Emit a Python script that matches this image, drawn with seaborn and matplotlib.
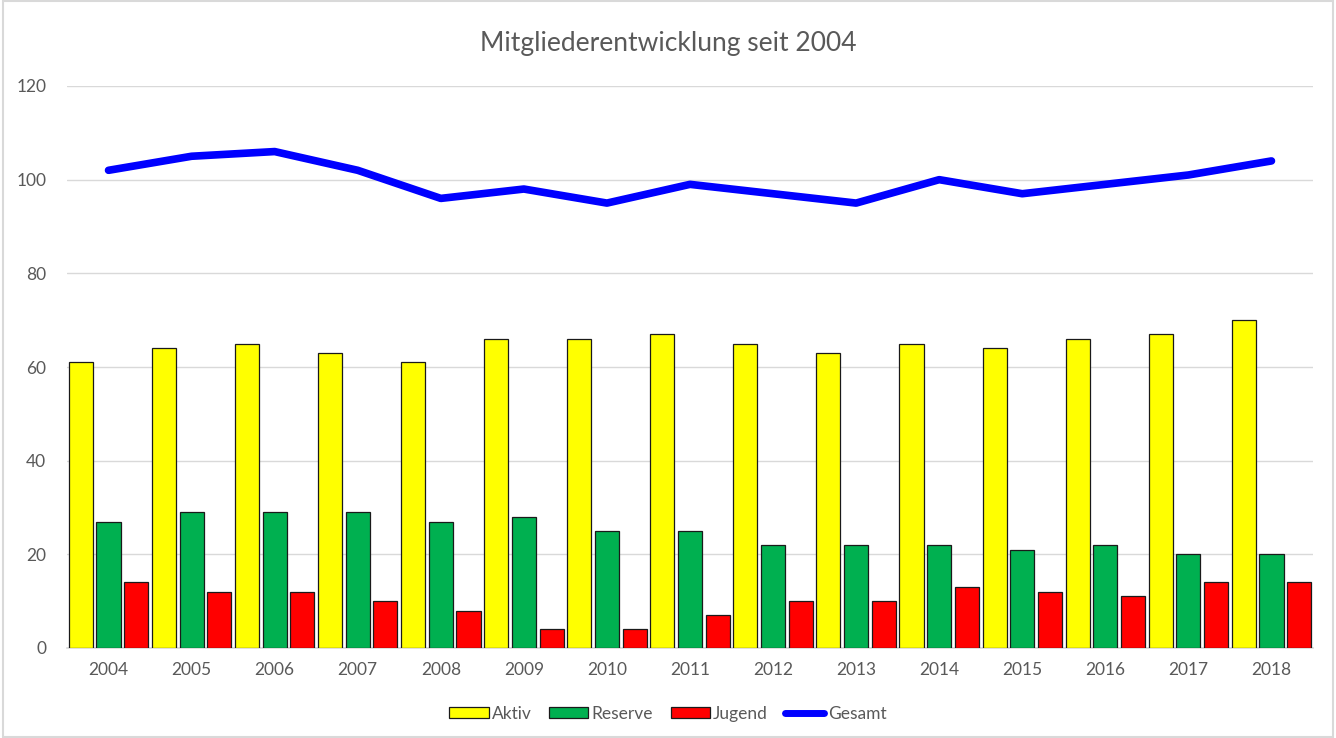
import numpy as np
import pandas as pd
import matplotlib
matplotlib.use("Agg")
import matplotlib.pyplot as plt
import seaborn as sns
from matplotlib.patches import Patch, Rectangle
from matplotlib.lines import Line2D

years = [str(y) for y in range(2004, 2019)]
aktiv = [61, 64, 65, 63, 61, 66, 66, 67, 65, 63, 65, 64, 66, 67, 70]
reserve = [27, 29, 29, 29, 27, 28, 25, 25, 22, 22, 22, 21, 22, 20, 20]
jugend = [14, 12, 12, 10, 8, 4, 4, 7, 10, 10, 13, 12, 11, 14, 14]
gesamt = [102, 105, 106, 102, 96, 98, 95, 99, 97, 95, 100, 97, 99, 101, 104]
series_names = ["Aktiv", "Reserve", "Jugend"]
colors = {"Aktiv": "#ffff00", "Reserve": "#00b050", "Jugend": "#ff0000"}
line_name = "Gesamt"
title = "Mitgliederentwicklung seit 2004"

sns.set_theme(style="white")
plt.rcParams["font.family"] = ["Lato", "DejaVu Sans"]
grey = "#595959"

df = pd.DataFrame({
    "Jahr": years * 3,
    "Wert": aktiv + reserve + jugend,
    "Serie": [s for s in series_names for _ in years],
})

fig = plt.figure(figsize=(13.36, 7.38), dpi=100)
ax = fig.add_axes([67 / 1336, 1 - 648 / 738, (1313 - 67) / 1336, (648 - 86) / 738])

sns.barplot(data=df, x="Jahr", y="Wert", hue="Serie", palette=colors,
            hue_order=series_names, width=1.0, gap=0.13, saturation=1, ax=ax,
            edgecolor="#1a1a1a", linewidth=0.9, legend=False, zorder=3)
sns.lineplot(x=np.arange(len(years)), y=gesamt, ax=ax, color="#0000ff",
             linewidth=5.5, solid_capstyle="round", solid_joinstyle="round",
             legend=False, zorder=4)

ax.set_xlim(-0.5, len(years) - 0.5)
ax.set_ylim(0, 120)
ax.set_yticks(range(0, 121, 20))
ax.yaxis.grid(True, color="#d9d9d9", linewidth=1)
ax.set_axisbelow(True)
for s in ["left", "right", "top"]:
    ax.spines[s].set_visible(False)
ax.spines["bottom"].set_color("#d9d9d9")
ax.spines["bottom"].set_linewidth(1.2)
ax.tick_params(axis="both", length=0, labelsize=12.5, labelcolor=grey, pad=10)
ax.tick_params(axis="y", pad=15)
ax.set_xlabel("")
ax.set_ylabel("")

fig.text(0.5, 1 - 44 / 738, title, ha="center", va="center", fontsize=19, color=grey)

handles = [Patch(facecolor=colors[s], edgecolor="#1a1a1a", linewidth=0.9) for s in series_names]
handles.append(Line2D([0], [0], color="#0000ff", linewidth=5, solid_capstyle="round"))
leg = fig.legend(handles, series_names + [line_name], loc="center",
                 bbox_to_anchor=(0.5, 1 - 714 / 738), ncol=4, frameon=False,
                 fontsize=12.5, handlelength=2.25, handleheight=0.6,
                 handletextpad=0.2, columnspacing=1.0)
for t in leg.get_texts():
    t.set_color(grey)

fig.patches.append(Rectangle((0.002, 0.002), 0.996, 0.996, transform=fig.transFigure,
                             fill=False, edgecolor="#d9d9d9", linewidth=1.5))

fig.savefig("out.png", dpi=100)
